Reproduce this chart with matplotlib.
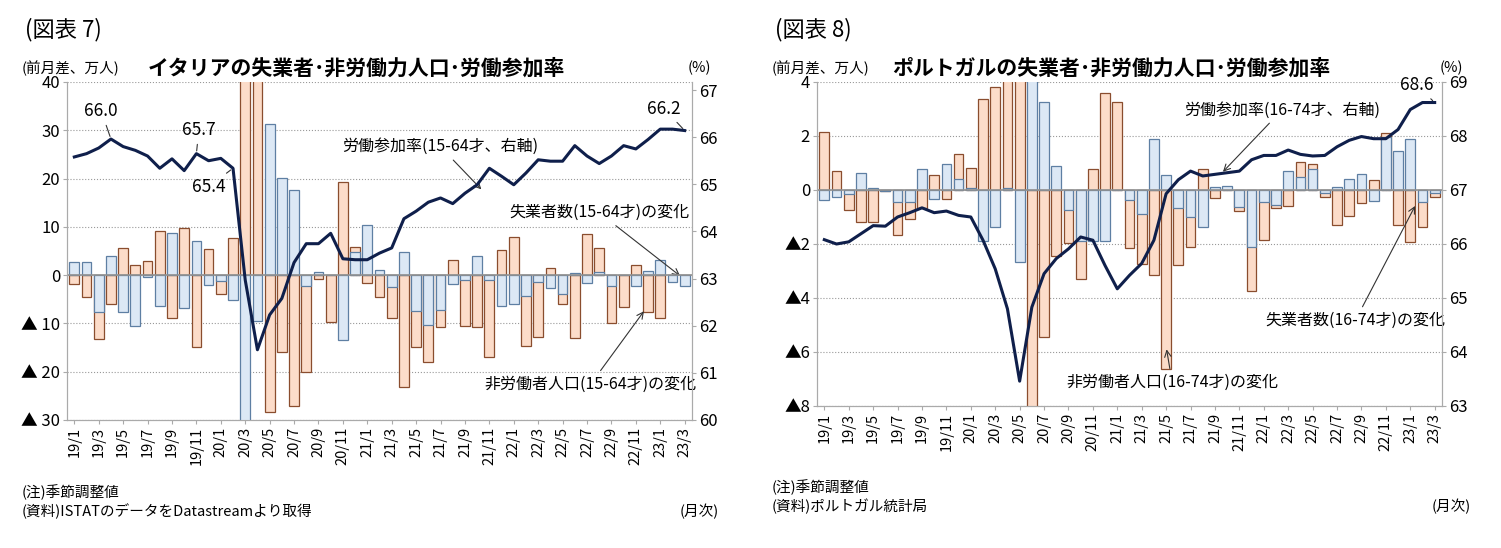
import matplotlib
matplotlib.use("Agg")
import matplotlib.pyplot as plt
import numpy as np

plt.rcParams['font.family'] = ['Noto Sans CJK JP', 'DejaVu Sans']

months = [f"{y}/{m}" for y in range(19, 24) for m in range(1, 13)][:51]

it_unemp = [2.7, 2.8, -7.7, 4.0, -7.6, -10.5, -0.3, -6.3, 8.8, -6.9, 7.1, -2.1, -1.3, -5.2,
            -45, -9.5, 31.4, 20.1, 17.7, -2.3, 0.7, 0.1, -13.4, 4.8, 10.3, 1.0,
            -2.4, 4.8, -7.4, -10.3, -7.2, -1.9, -1.0, 3.9, -1.0, -6.4, -5.9, -4.3, -1.4, -2.6,
            -3.9, 0.5, -1.7, 0.7, -2.2, 0.1, -2.3, 0.9, 3.1, -1.4, -2.3]
it_inact = [-1.9, -4.5, -13.3, -5.9, 5.7, 2.0, 2.9, 9.2, -8.8, 9.8, -14.8, 5.4, -4.0, 7.6,
            50, 45, -28.3, -15.9, -27.1, -20.1, -0.9, -9.8, 19.2, 5.9, -1.7, -4.5,
            -8.8, -23.2, -14.8, -17.9, -10.7, 3.2, -10.5, -10.7, -16.9, 5.2, 7.9, -14.6, -12.9, 1.4,
            -5.9, -13.1, 8.5, 5.7, -10.0, -6.7, 2.1, -7.7, -8.8, 0.1, 0.1]
it_rate = [65.58, 65.65, 65.77, 65.96, 65.8, 65.72, 65.6, 65.34, 65.54, 65.29, 65.65, 65.5, 65.55, 65.34,
           62.97, 61.49, 62.23, 62.58, 63.34, 63.74, 63.74, 63.96, 63.42, 63.4, 63.4, 63.54,
           63.65, 64.27, 64.43, 64.62, 64.71, 64.59, 64.81, 64.99, 65.34, 65.17, 64.99, 65.24, 65.52, 65.49,
           65.49, 65.82, 65.6, 65.44, 65.6, 65.82, 65.75, 65.95, 66.17, 66.17, 66.14]

pt_unemp = [-0.37, -0.25, -0.15, 0.64, 0.06, -0.02, -0.43, -0.46, 0.77, -0.35, 0.95, 0.42, 0.06,
            -1.88, -1.36, 0.06, -2.65, 6.0, 3.27, 0.89, -0.74, -1.9, -1.9, -1.88, 0.0,
            -0.37, -0.9, 1.89, 0.57, -0.68, -0.99, -1.38, 0.12, 0.16, -0.62, -2.12, -0.43, -0.56, 0.7, 0.49,
            0.77, -0.12, 0.1, 0.4, 0.58, -0.4, 1.98, 1.43, 1.88, -0.44, -0.1]
pt_inact = [2.16, 0.72, -0.74, -1.2, -1.17, -0.04, -1.67, -1.09, -0.65, 0.57, -0.33, 1.32, 0.8,
            3.36, 3.83, 5.5, 6.0, -9.0, -5.46, -2.43, -1.98, -3.3, 0.77, 3.6, 3.27,
            -2.16, -2.74, -3.15, -6.62, -2.78, -2.12, 0.77, -0.3, 0.0, -0.78, -3.75, -1.85, -0.68, -0.59, 1.05,
            0.95, -0.27, -1.31, -0.96, -0.49, 0.37, 2.1, -1.31, -1.94, -1.36, -0.25]
pt_rate = [66.08, 66.0, 66.04, 66.19, 66.34, 66.33, 66.5, 66.58, 66.67, 66.58, 66.61, 66.53, 66.5,
           66.07, 65.54, 64.8, 63.46, 64.83, 65.45, 65.73, 65.91, 66.13, 66.07, 65.6, 65.17,
           65.42, 65.64, 66.07, 66.93, 67.19, 67.35, 67.26, 67.29, 67.32, 67.35, 67.56, 67.64, 67.64, 67.74, 67.66,
           67.63, 67.64, 67.8, 67.92, 67.99, 67.95, 67.95, 68.12, 68.49, 68.62, 68.62]

BLUE_F, BLUE_E = '#dce8f5', '#5e7fa3'
ORG_F, ORG_E = '#fcdcc9', '#8a4d2e'
LINE = '#0f1f4b'

W, H = 1501, 548
fig = plt.figure(figsize=(W/100, H/100), dpi=100)

def fx(px): return px / W
def fy(py): return 1 - py / H

def panel(l, r, t, b, unemp, inact, rate, ylim, yticks, ylabels, r_lim, r_ticks):
    ax = fig.add_axes([fx(l), fy(b), fx(r - l), (b - t) / H])
    x = np.arange(len(months))
    ax.bar(x, inact, width=0.8, color=ORG_F, edgecolor=ORG_E, linewidth=0.9, zorder=2)
    ax.bar(x, unemp, width=0.8, color=BLUE_F, edgecolor=BLUE_E, linewidth=0.9, zorder=3)
    ax.axhline(0, color='#909090', lw=1.2, zorder=4)
    ax.set_xlim(-0.6, len(months) - 0.4)
    ax.set_ylim(*ylim)
    ax.set_yticks(yticks)
    ax.set_yticklabels(ylabels, fontsize=12)
    ax.set_xticks(x[::2])
    ax.set_xticklabels(months[::2], rotation=90, fontsize=10.5)
    ax.grid(axis='y', color='#999999', ls=':', lw=0.8, zorder=0)
    ax.spines['top'].set_visible(False)
    for s in ['left', 'right', 'bottom']:
        ax.spines[s].set_color('#aaaaaa')
    ax.tick_params(length=3, color='#aaaaaa', pad=2)
    ax2 = ax.twinx()
    ax2.plot(x, rate, color=LINE, lw=2.2, zorder=5)
    ax2.set_ylim(*r_lim)
    ax2.set_yticks(r_ticks)
    ax2.set_yticklabels([str(v) for v in r_ticks], fontsize=12)
    ax2.spines['top'].set_visible(False)
    for s in ['left', 'right', 'bottom']:
        ax2.spines[s].set_color('#aaaaaa')
    ax2.tick_params(length=3, color='#aaaaaa', pad=2)
    ax.set_zorder(ax2.get_zorder() - 1); ax.patch.set_visible(False)
    return ax, ax2

arrow = dict(arrowstyle='->', color='#333', lw=0.8)
line_ = dict(arrowstyle='-', color='#333', lw=0.8)

# ---- Left panel (Italy)
il = [f"▲ {abs(v)}" if v < 0 else str(v) for v in range(-30, 41, 10)]
ax, ax2 = panel(67, 692, 82, 420, it_unemp, it_inact, it_rate, (-30, 40), range(-30, 41, 10), il,
                (60, 67.17), list(range(60, 68)))
fig.text(fx(25), fy(30), '(図表 7)', fontsize=16, va='center')
fig.text(fx(22), fy(68), '(前月差、万人)', fontsize=10.5, va='center')
fig.text(fx(148), fy(68), 'イタリアの失業者･非労働力人口･労働参加率', fontsize=15, va='center', weight='bold')
fig.text(fx(688), fy(68), '(%)', fontsize=10.5, va='center')
ax2.annotate('66.0', xy=(3, 65.96), xytext=(2.2, 66.45), fontsize=12.5, ha='center', arrowprops=line_)
ax2.annotate('65.7', xy=(10, 65.65), xytext=(10.2, 66.05), fontsize=12.5, ha='center', arrowprops=line_)
ax2.annotate('65.4', xy=(13, 65.34), xytext=(11, 64.95), fontsize=12.5, ha='center', va='center', arrowprops=line_)
ax2.annotate('66.2', xy=(50, 66.14), xytext=(48.3, 66.5), fontsize=12.5, ha='center', arrowprops=line_)
ax2.annotate('労働参加率(15-64才、右軸)', xy=(33.5, 64.85), xytext=(30, 65.7), fontsize=11.5, ha='center',
             arrowprops=arrow)
ax.annotate('失業者数(15-64才)の変化', xy=(49.8, -0.5), xytext=(43, 12), fontsize=11.5, ha='center',
            arrowprops=arrow)
ax.annotate('非労働者人口(15-64才)の変化', xy=(46.8, -7), xytext=(42.3, -23.5), fontsize=11.5, ha='center',
            arrowprops=arrow)
fig.text(fx(22), fy(492), '(注)季節調整値', fontsize=10.5, va='center')
fig.text(fx(22), fy(511), '(資料)ISTATのデータをDatastreamより取得', fontsize=10.5, va='center')
fig.text(fx(680), fy(511), '(月次)', fontsize=10.5, va='center')

# ---- Right panel (Portugal)
rl = [f"▲{abs(v)}" if v < 0 else str(v) for v in range(-8, 5, 2)]
bx, bx2 = panel(817, 1442, 82, 406, pt_unemp, pt_inact, pt_rate, (-8, 4), range(-8, 5, 2), rl,
                (63, 69), list(range(63, 70)))
fig.text(fx(775), fy(30), '(図表 8)', fontsize=16, va='center')
fig.text(fx(772), fy(68), '(前月差、万人)', fontsize=10.5, va='center')
fig.text(fx(892), fy(68), 'ポルトガルの失業者･非労働力人口･労働参加率', fontsize=15, va='center', weight='bold')
fig.text(fx(1440), fy(68), '(%)', fontsize=10.5, va='center')
bx2.annotate('68.6', xy=(50, 68.62), xytext=(48.5, 68.85), fontsize=12.5, ha='center', arrowprops=line_)
bx2.annotate('労働参加率(16-74才、右軸)', xy=(32.5, 67.3), xytext=(37.5, 68.4), fontsize=11.5, ha='center',
             arrowprops=arrow)
bx.annotate('失業者数(16-74才)の変化', xy=(48.5, -0.5), xytext=(43.5, -5), fontsize=11.5, ha='center',
            arrowprops=arrow)
bx.annotate('非労働者人口(16-74才)の変化', xy=(28, -5.8), xytext=(28.5, -7.3), fontsize=11.5, ha='center',
            arrowprops=arrow)
fig.text(fx(772), fy(487), '(注)季節調整値', fontsize=10.5, va='center')
fig.text(fx(772), fy(506), '(資料)ポルトガル統計局', fontsize=10.5, va='center')
fig.text(fx(1432), fy(506), '(月次)', fontsize=10.5, va='center')

fig.savefig('out.png', dpi=100)
